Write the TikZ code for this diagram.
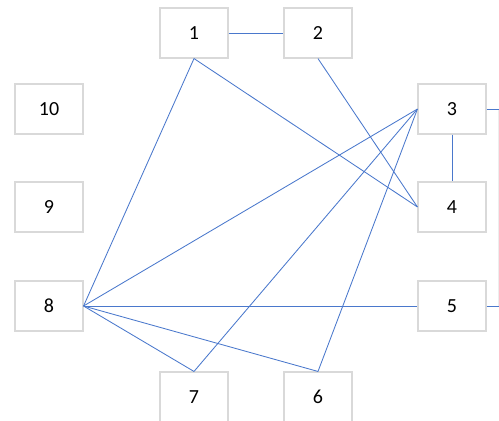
\documentclass[tikz,border=0pt]{standalone}
\usepackage{fontspec}
\setmainfont{Carlito}
\definecolor{boxline}{HTML}{D9D9D9}
\definecolor{faint}{HTML}{EDEDED}
\definecolor{conn}{HTML}{4A78CC}
\begin{document}
\begin{tikzpicture}[x=1pt,y=-1pt,
  box/.style={draw=boxline,line width=1.1pt,fill=white,minimum width=68pt,minimum height=50pt,inner sep=0pt,font=\fontsize{20}{24}\selectfont},
  link/.style={draw=conn,line width=0.85pt}]
\useasboundingbox (0,0) rectangle (499,421);
\clip (0,0) rectangle (499,421);
\node[box] (n1) at (194,33) {1};
\node[box] (n2) at (318,33) {2};
\node[box] (n3) at (452,109) {3};
\node[box] (n4) at (452,207) {4};
\node[box] (n5) at (452,306) {5};
\node[box] (n6) at (318,397) {6};
\node[box] (n7) at (194,397) {7};
\node[box] (n8) at (49,306) {8};
\node[box] (n9) at (49,207) {9};
\node[box] (n10) at (49,109) {10};
\coordinate (r3) at (499,109);
\coordinate (r5) at (499,306);
\draw[draw=faint,line width=0.6pt] (498.5,110) -- (498.5,306);
\draw[link] (n1.east) -- (n2.west);
\draw[link] (n3.south) -- (n4.north);
\draw[link] (n1.south) -- (n8.east);
\draw[link] (n1.south) -- (n4.west);
\draw[link] (n2.south) -- (n4.west);
\draw[link] (n3.west) -- (n8.east);
\draw[link] (n3.west) -- (n7.north);
\draw[link] (n3.west) -- (n6.north);
\draw[link] (n8.east) -- (n5.west);
\draw[link] (n8.east) -- (n7.north);
\draw[link] (n8.east) -- (n6.north);
\draw[link] (n3.east) -- (r3);
\draw[link] (n5.east) -- (r5);
\end{tikzpicture}
\end{document}
